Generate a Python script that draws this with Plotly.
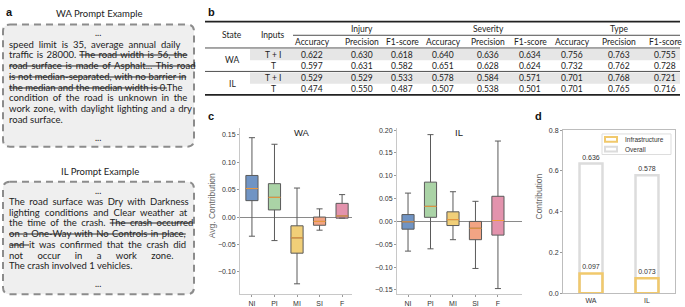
import plotly.graph_objects as go

W, H = 685, 307

# ---------------- data ----------------
categories = ["NI", "PI", "MI", "SI", "F"]
box_colors = ["#7094c4", "#aad3a6", "#f1cf78", "#f2a484", "#e393ad"]

wa_lower = [-0.035, -0.043, -0.122, -0.024, -0.002]
wa_q1 = [0.030, 0.013, -0.066, -0.015, -0.002]
wa_median = [0.052, 0.036, -0.038, -0.008, 0.002]
wa_q3 = [0.076, 0.061, -0.016, 0.000, 0.025]
wa_upper = [0.145, 0.133, 0.053, 0.015, 0.041]

il_lower = [-0.065, -0.060, -0.040, -0.103, -0.147]
il_q1 = [-0.017, 0.009, -0.009, -0.040, -0.030]
il_median = [-0.001, 0.033, 0.004, -0.015, 0.002]
il_q3 = [0.015, 0.086, 0.021, 0.000, 0.055]
il_upper = [0.062, 0.190, 0.065, 0.044, 0.176]

states = ["WA", "IL"]
overall = [0.636, 0.578]
infrastructure = [0.097, 0.073]

table_groups = ["Injury", "Severity", "Type"]
table_metrics = ["Accuracy", "Precision", "F1-score"]
table_states = ["WA", "WA", "IL", "IL"]
table_inputs = ["T + I", "T", "T + I", "T"]
table_values = [
    [0.622, 0.630, 0.618, 0.640, 0.636, 0.634, 0.756, 0.763, 0.755],
    [0.597, 0.631, 0.582, 0.651, 0.628, 0.624, 0.732, 0.762, 0.728],
    [0.529, 0.529, 0.533, 0.578, 0.584, 0.571, 0.701, 0.768, 0.721],
    [0.474, 0.550, 0.487, 0.507, 0.538, 0.501, 0.701, 0.765, 0.716],
]

wa_prompt = [
    "speed limit is 35, average annual daily",
    "traffic is 28000. <s>The road width is 56, the</s>",
    "<s>road surface is made of Asphalt... This road</s>",
    "<s>is not median-separated, with no barrier in</s>",
    "<s>the median and the median width is 0.</s>The",
    "condition of the road is unknown in the",
    "work zone, with daylight lighting and a dry",
    "road surface.",
]
wa_spacing = [2.5, 0.9, 1.3, 0.2, 0.0, 2.1, 1.0, 0.0]
il_prompt = [
    "The road surface was Dry with Darkness",
    "lighting conditions and Clear weather at",
    "the time of the crash. <s>The crash occurred</s>",
    "<s>on a One-Way with No Controls in place,</s>",
    "<s>and </s>it was confirmed that the crash did",
    "not occur in a work zone.",
    "The crash involved 1 vehicles.",
]
il_spacing = [2.0, 2.6, 2.0, 1.0, 2.2, 12.0, 0.0]


def X(px):
    return px / W


def Y(py):
    return 1 - py / H


TXT = "Lato, 'Open Sans', sans-serif"
ARIAL = "'Liberation Sans', Arial, sans-serif"

fig = go.Figure()

# ---------------- panel c boxes ----------------
def add_boxes(lower, q1, med, q3, upper, xa, ya):
    for i in range(len(categories)):
        fig.add_trace(go.Box(
            x=[i], lowerfence=[lower[i]], q1=[q1[i]], median=[med[i]], q3=[q3[i]],
            upperfence=[upper[i]], width=0.54, whiskerwidth=0.5,
            fillcolor=box_colors[i], line=dict(color="#5a5a5a", width=1),
            xaxis=xa, yaxis=ya, showlegend=False, hoverinfo="skip"))
        fig.add_trace(go.Scatter(
            x=[i - 0.27, i + 0.27], y=[med[i], med[i]], mode="lines",
            line=dict(color="#f39c3c", width=1), xaxis=xa, yaxis=ya,
            showlegend=False, hoverinfo="skip"))


add_boxes(wa_lower, wa_q1, wa_median, wa_q3, wa_upper, "x", "y")
add_boxes(il_lower, il_q1, il_median, il_q3, il_upper, "x2", "y2")

# ---------------- panel d bars ----------------
fig.add_trace(go.Bar(
    x=states, y=overall, width=0.41, name="Overall",
    marker=dict(color="rgba(0,0,0,0)", line=dict(color="#dcdcdc", width=2.5)),
    text=[f"{v:.3f}" for v in overall], textposition="outside",
    textfont=dict(size=7, color="#333", family=ARIAL), cliponaxis=False,
    xaxis="x3", yaxis="y3", showlegend=False))
fig.add_trace(go.Bar(
    x=states, y=infrastructure, width=0.41, name="Infrastructure",
    marker=dict(color="rgba(0,0,0,0)", line=dict(color="#f1c96c", width=2.5)),
    text=[f"{v:.3f}" for v in infrastructure], textposition="outside",
    textfont=dict(size=7, color="#333", family=ARIAL), cliponaxis=False,
    xaxis="x3", yaxis="y3", showlegend=False))

box_ax_common = dict(showgrid=False, showline=True, linecolor="#c8c8c8", linewidth=1,
                     ticks="outside", ticklen=2, tickcolor="#999",
                     tickfont=dict(size=7, color="#333", family=ARIAL))

fig.update_layout(
    width=W, height=H, margin=dict(l=0, r=0, t=0, b=0),
    paper_bgcolor="white", plot_bgcolor="white", barmode="overlay",
    showlegend=False,
    xaxis=dict(domain=[X(240), X(352)], range=[-0.53, 4.44],
               tickvals=list(range(5)), ticktext=categories, zeroline=False,
               **box_ax_common),
    yaxis=dict(domain=[Y(297), Y(127)], range=[-0.141, 0.1625],
               tickvals=[-0.10, -0.05, 0.0, 0.05, 0.10, 0.15], tickformat=".2f",
               zeroline=True, zerolinecolor="#8a8a8a", zerolinewidth=1,
               **box_ax_common),
    xaxis2=dict(domain=[X(397), X(522)], range=[-0.49, 5.07], anchor="y2",
                tickvals=list(range(5)), ticktext=categories, zeroline=False,
                **box_ax_common),
    yaxis2=dict(domain=[Y(297), Y(127)], range=[-0.1594, 0.2043], anchor="x2",
                tickvals=[-0.15, -0.10, -0.05, 0.0, 0.05, 0.10, 0.15, 0.20],
                tickformat=".2f", zeroline=True, zerolinecolor="#8a8a8a",
                zerolinewidth=1, **box_ax_common),
    xaxis3=dict(domain=[X(563), X(675)], range=[-0.5, 1.5], anchor="y3",
                showgrid=False, showline=True, mirror=True, linecolor="#bdbdbd",
                ticks="", tickfont=dict(size=7, color="#333", family=ARIAL)),
    yaxis3=dict(domain=[Y(296), Y(129)], range=[0, 0.8], anchor="x3",
                tickvals=[0, 0.2, 0.4, 0.6, 0.8], tickformat=".1f",
                showgrid=False, showline=True, mirror=True, linecolor="#bdbdbd",
                zeroline=False, ticks="outside", ticklen=2, tickcolor="#999",
                tickfont=dict(size=7, color="#333", family=ARIAL)),
)

shapes = []
ann = []


def text(x, y, s, size=9, family=TXT, color="#222", xanchor="center", **kw):
    ann.append(dict(x=X(x), y=Y(y), xref="paper", yref="paper", text=s,
                    showarrow=False, xanchor=xanchor, yanchor="middle",
                    font=dict(size=size, family=family, color=color), **kw))


# panel letters
for lab, (lx, ly) in zip("abcd", [(4, 8), (206, 8), (206, 115), (533, 115)]):
    text(lx, ly, f"<b>{lab}</b>", size=11, family=ARIAL, color="#111", xanchor="left")

# ---------------- panel a ----------------
def rounded_box(x0, y0, x1, y1, r):
    rx, ry = r / W, r / H
    a, b, c, d = X(x0), Y(y0), X(x1), Y(y1)
    path = (f"M {a+rx},{b} L {c-rx},{b} Q {c},{b} {c},{b-ry} L {c},{d+ry} "
            f"Q {c},{d} {c-rx},{d} L {a+rx},{d} Q {a},{d} {a},{d+ry} "
            f"L {a},{b-ry} Q {a},{b} {a+rx},{b} Z")
    shapes.append(dict(type="path", path=path, xref="paper", yref="paper",
                       fillcolor="#efefef", line=dict(color="#8c8c8c", width=2, dash="7px,5px")))


def justified(line, sp):
    return f'<span style="word-spacing:{sp}px">{line}</span>' if sp else line


rounded_box(3, 21, 194, 146, 7)
rounded_box(3, 182, 194, 297, 7)
text(100, 10, "WA Prompt Example", size=9.5)
text(100, 171, "IL Prompt Example", size=9.5)

text(98, 29, "...", size=9)
for i, line in enumerate(wa_prompt):
    text(7, 41 + i * 11, justified(line, wa_spacing[i]), size=9.5, xanchor="left")
text(98, 137, "...", size=9)

text(98, 191, "...", size=9)
for i, line in enumerate(il_prompt):
    text(7, 202 + i * 11, justified(line, il_spacing[i]), size=9.5, xanchor="left")
text(98, 286, "...", size=9)

# ---------------- panel b table ----------------
col_x = [312, 362, 402, 443, 488, 530, 572, 619, 665]
row_y = [52, 63.5, 75.5, 87]
for y0, y1 in [(46, 57.5), (70, 81.5)]:
    shapes.append(dict(type="rect", xref="paper", yref="paper", x0=X(250), x1=X(680),
                       y0=Y(y1), y1=Y(y0), fillcolor="#e6e6e6", line=dict(width=0), layer="below"))
for y, x0, wd in [(18, 205, 1.6), (32, 293, 0.8), (45, 205, 0.8), (69, 205, 0.8), (93, 205, 1.6)]:
    shapes.append(dict(type="line", xref="paper", yref="paper", x0=X(x0), x1=X(680),
                       y0=Y(y), y1=Y(y), line=dict(color="#222", width=wd)))

TS = 8.5
text(232, 32, "State", size=TS)
text(273, 32, "Inputs", size=TS)
for g, gname in enumerate(table_groups):
    text(col_x[3 * g + 1], 25.5, gname, size=TS)
    for m, mname in enumerate(table_metrics):
        text(col_x[3 * g + m], 39, mname, size=TS)
text(232, 57.5, "WA", size=TS)
text(232, 81.5, "IL", size=TS)
for r in range(4):
    text(273, row_y[r], table_inputs[r], size=TS)
    for c, v in enumerate(table_values[r]):
        text(col_x[c], row_y[r], f"{v:.3f}", size=TS)

# ---------------- panel c titles ----------------
text(302, 132, "WA", size=9.5, family=ARIAL, color="#222")
text(459, 132, "IL", size=9.5, family=ARIAL, color="#222")
text(212, 207, "Avg. Contribution", size=8.5, family=ARIAL, color="#666", textangle=-90)

# ---------------- panel d legend & title ----------------
text(539, 197, "Contribution", size=8.5, family=ARIAL, color="#666", textangle=-90)
shapes.append(dict(type="rect", xref="paper", yref="paper", x0=X(602), x1=X(671),
                   y0=Y(154), y1=Y(133), fillcolor="white", line=dict(color="#dddddd", width=1)))
shapes.append(dict(type="rect", xref="paper", yref="paper", x0=X(605), x1=X(617),
                   y0=Y(141), y1=Y(136), line=dict(color="#f1c96c", width=2)))
shapes.append(dict(type="rect", xref="paper", yref="paper", x0=X(605), x1=X(617),
                   y0=Y(151), y1=Y(146), line=dict(color="#dcdcdc", width=2)))
text(623, 138.5, "Infrastructure", size=6.5, family=ARIAL, color="#333", xanchor="left")
text(623, 148.5, "Overall", size=6.5, family=ARIAL, color="#333", xanchor="left")

fig.update_layout(shapes=shapes, annotations=ann)
fig.write_html("out.html", config={"displayModeBar": False},
               post_script="document.body.style.margin='0px';")
